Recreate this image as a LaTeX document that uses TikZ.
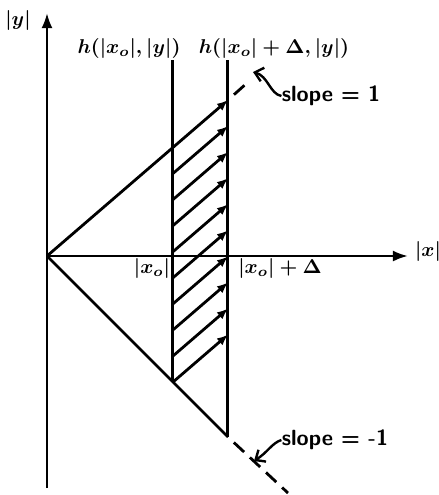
\documentclass[tikz,border=0pt]{standalone}
\usepackage{amsmath}
\usepackage{tikz}
\usetikzlibrary{arrows.meta}

\begin{document}
\begin{tikzpicture}[
    x=0.5pt, y=-0.5pt,
    axis/.style={-{Latex[length=7.5pt, width=5.5pt]}, line width=1.3pt},
    bound/.style={line width=1.5pt},
    edge/.style={line width=1.4pt},
    flow/.style={-{Latex[length=5.5pt, width=4.5pt]}, line width=1.4pt},
    ext/.style={line width=1.4pt, dash pattern=on 7pt off 4pt, dash phase=7pt},
    lead/.style={-{Straight Barb[length=4pt, width=7pt]}, line width=1.2pt},
    mlbl/.style={inner sep=0pt, font=\boldmath},
    slbl/.style={inner sep=0pt, font=\fontsize{11}{13}\selectfont\sffamily\bfseries}
]
\useasboundingbox (0,0) rectangle (439,495);

% axes
\coordinate (O) at (47,256);
\coordinate (ytop) at (47,13);
\coordinate (ybot) at (47,488);
\coordinate (xend) at (408,256);
\draw[axis] (ybot) -- (ytop);
\draw[axis] (O) -- (xend);

% the two h lines
\coordinate (left top) at (173,60);
\coordinate (left bot) at (173,382);
\coordinate (right top) at (228,60);
\coordinate (right bot) at (228,437);
\draw[bound] (left top) -- (left bot);
\draw[bound] (right top) -- (right bot);

% slope lines
\coordinate (up) at (228,100);
\coordinate (up end) at (247,83);
\coordinate (down end) at (288,493);
\draw[flow] (O) -- (up);
\draw[edge] (O) -- (right bot);
\draw[ext] (up) -- (up end);
\draw[ext] (right bot) -- (down end);

% flow between the lines
\foreach \k in {1,...,9} {
    \coordinate (src\k) at (173,147.4+26.07*\k);
    \coordinate (dst\k) at (228,100+26.07*\k);
    \draw[flow] (src\k) -- (dst\k);
}

% labels
\node[mlbl] (ylab) at (18,20) {$|y|$};
\node[mlbl] (xlab) at (428,251) {$|x|$};
\node[mlbl] (hleft) at (129,48) {$h(|x_o|, |y|)$};
\node[mlbl] (hright) at (274,48) {$h(|x_o| + \Delta, |y|)$};
\node[mlbl] (xo) at (152,268) {$|x_o|$};
\node[mlbl] (xod) at (280,268) {$|x_o| + \Delta$};
\node[slbl] (plus) at (331,96) {slope = 1};
\node[slbl] (minus) at (335,440) {slope = -1};

\draw[lead] (plus.west) .. controls (270,94) and (268,76) .. (253,72);
\draw[lead] (minus.west) .. controls (272,443) and (268,452) .. (254,461);
\end{tikzpicture}
\end{document}
